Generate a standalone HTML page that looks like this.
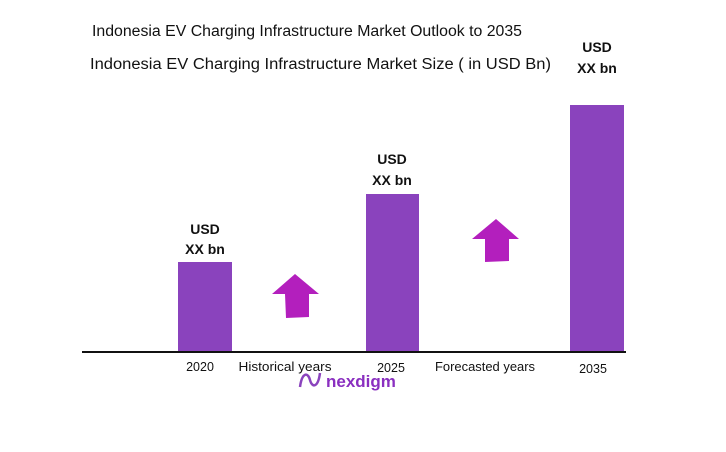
<!DOCTYPE html>
<html><head><style>
body{margin:0;background:#fff;width:726px;height:447px;overflow:hidden;font-family:"Liberation Sans",sans-serif;}
</style></head><body>
<svg width="726" height="447" xmlns="http://www.w3.org/2000/svg" font-family="Liberation Sans, sans-serif">
<text x="92" y="36" font-size="15.5" fill="#111" textLength="430" lengthAdjust="spacingAndGlyphs">Indonesia EV Charging Infrastructure Market Outlook to 2035</text>
<text x="90" y="69" font-size="15.5" fill="#111" textLength="461" lengthAdjust="spacingAndGlyphs">Indonesia EV Charging Infrastructure Market Size ( in USD Bn)</text>
<rect x="178" y="262" width="54" height="90" fill="#8a43bd"/>
<rect x="366" y="194" width="53" height="158" fill="#8a43bd"/>
<rect x="570" y="105" width="54" height="247" fill="#8a43bd"/>
<line x1="82" y1="352" x2="626" y2="352" stroke="#111" stroke-width="2"/>
<g font-weight="bold" font-size="14" fill="#111" text-anchor="middle">
<text x="205" y="234">USD</text><text x="205" y="254">XX bn</text>
<text x="392" y="164">USD</text><text x="392" y="185">XX bn</text>
<text x="597" y="52">USD</text><text x="597" y="73">XX bn</text>
</g>
<polygon points="295,274 319,294 309,294 309,317 286,318 285,294 272,294" fill="#b31fbd"/>
<polygon points="496,219 519,239 509,239 509,261 485,262 485,239 472,239" fill="#b31fbd"/>
<g font-size="12.5" fill="#111" text-anchor="middle">
<text x="200" y="371">2020</text>
<text x="285" y="371" textLength="93" lengthAdjust="spacingAndGlyphs">Historical years</text>
<text x="391" y="372">2025</text>
<text x="485" y="371" textLength="100" lengthAdjust="spacingAndGlyphs">Forecasted years</text>
<text x="593" y="373">2035</text>
</g>
<path d="M300,387 C302,372 308,372 310,380 C312,388 318,388 320,373" stroke="#8a43bd" stroke-width="2.5" fill="none"/>
<text x="326" y="387" font-size="17" font-weight="bold" fill="#8a2fc0">nexdigm</text>
</svg>
</body></html>
